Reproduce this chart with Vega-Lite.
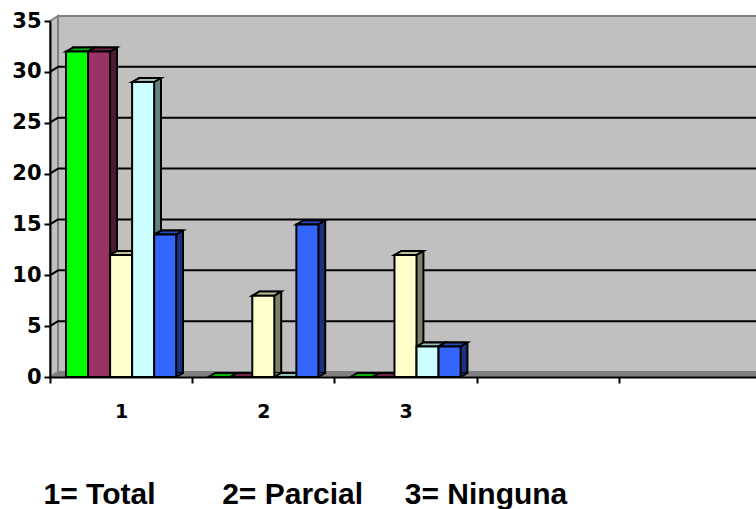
{"$schema":"https://vega.github.io/schema/vega-lite/v6.json","width":711,"height":356,"autosize":"none","padding":{"left":50,"top":21,"right":0,"bottom":132},"background":"white","config":{"view":{"stroke":null},"font":"DejaVu Sans"},"datasets":{"bars":[{"cat":"1","s":"a","value":32},{"cat":"1","s":"b","value":32},{"cat":"1","s":"c","value":12},{"cat":"1","s":"d","value":29},{"cat":"1","s":"e","value":14},{"cat":"2","s":"a","value":0},{"cat":"2","s":"b","value":0},{"cat":"2","s":"c","value":8},{"cat":"2","s":"d","value":0},{"cat":"2","s":"e","value":15},{"cat":"3","s":"a","value":0},{"cat":"3","s":"b","value":0},{"cat":"3","s":"c","value":12},{"cat":"3","s":"d","value":3},{"cat":"3","s":"e","value":3}]},"resolve":{"scale":{"x":"independent"},"axis":{"x":"independent"}},"layer":[{"layer":[{"data":{"values":[{"a":0}]},"mark":{"type":"point","shape":"M0,0.89 L0.04,0.865 L0.04,-0.915 L0,-0.89 Z","size":160000,"filled":true,"fill":"#c0c0c0","stroke":"#808080","strokeWidth":2,"opacity":1},"encoding":{"x":{"datum":0,"type":"quantitative","scale":{"domain":[0,5]},"axis":null},"y":{"datum":17.5,"type":"quantitative","scale":{"domain":[0,35]},"axis":{"values":[0,5,10,15,20,25,30,35],"zindex":1,"domainColor":"#000","domainWidth":2,"tickColor":"#000","tickWidth":2,"tickSize":6,"labelFont":"DejaVu Sans","labelFontWeight":"bold","labelFontSize":21,"labelColor":"#000","labelPadding":3,"grid":false,"title":null}}}},{"data":{"values":[{"a":0}]},"mark":{"type":"rect","fill":"#c0c0c0","stroke":"#808080","strokeWidth":2,"xOffset":8,"yOffset":-5,"x2Offset":8,"y2Offset":-5},"encoding":{"x":{"datum":0,"type":"quantitative","scale":{"domain":[0,5]}},"x2":{"datum":5},"y":{"datum":0,"type":"quantitative"},"y2":{"datum":35}}},{"data":{"values":[{"a":0}]},"mark":{"type":"point","shape":"M0,0 L1.7775,0 L1.7975,-0.015 L0.02,-0.015 Z","size":640000,"filled":true,"fill":"#808080","opacity":1,"stroke":null},"encoding":{"x":{"datum":0,"type":"quantitative","scale":{"domain":[0,5]}},"y":{"datum":0,"type":"quantitative"}}},{"data":{"values":[{"v":5},{"v":10},{"v":15},{"v":20},{"v":25},{"v":30}]},"mark":{"type":"rule","color":"#000","strokeWidth":2,"xOffset":8,"x2Offset":8,"yOffset":-5},"encoding":{"x":{"datum":0,"type":"quantitative","scale":{"domain":[0,5]}},"x2":{"datum":5},"y":{"field":"v","type":"quantitative"}}},{"data":{"values":[{"v":5},{"v":10},{"v":15},{"v":20},{"v":25},{"v":30}]},"mark":{"type":"point","shape":"M0,0 L0.8,-0.5 Z","size":400,"filled":false,"stroke":"#000","strokeWidth":2,"opacity":1},"encoding":{"x":{"datum":0,"type":"quantitative","scale":{"domain":[0,5]}},"y":{"field":"v","type":"quantitative"}}}]},{"data":{"name":"bars"},"resolve":{"scale":{"fill":"independent","xOffset":"independent"}},"encoding":{"x":{"field":"cat","type":"nominal","scale":{"domain":["1","2","3","4","5"],"paddingInner":0,"paddingOuter":0},"axis":{"orient":"bottom","zindex":1,"domain":true,"domainColor":"#000","domainWidth":2,"ticks":true,"tickColor":"#000","tickWidth":2,"tickSize":6,"tickBand":"extent","labelAngle":0,"labelFont":"DejaVu Sans","labelFontWeight":"bold","labelFontSize":19,"labelColor":"#000","labelPadding":19,"labelExpr":"datum.value <= 3 ? datum.label : ''","grid":false,"title":"1= Total\u00a0\u00a0\u00a0\u00a0\u00a0\u00a0\u00a0\u00a02= Parcial\u00a0\u00a0\u00a0\u00a0\u00a03= Ninguna","titleFont":"Liberation Sans","titleFontWeight":"bold","titleFontSize":30,"titleColor":"#000","titleAnchor":"start","titleAlign":"left","titleBaseline":"alphabetic","titleX":-7,"titleY":126}},"y":{"field":"value","type":"quantitative"}},"layer":[{"transform":[{"filter":"datum.value > 0"}],"mark":{"type":"rect","stroke":"#000","strokeWidth":2,"yOffset":-4,"y2Offset":-4},"encoding":{"xOffset":{"field":"s","type":"nominal","scale":{"type":"band","domain":["a","b","c","d","e"],"paddingInner":0,"paddingOuter":0.727,"range":[7,149]}},"y2":{"datum":0},"fill":{"field":"s","type":"nominal","scale":{"domain":["a","b","c","d","e"],"range":["#008000","#4d1a33","#808066","#668080","#1a3380"]},"legend":null}}},{"transform":[{"filter":"datum.value > 0"}],"mark":{"type":"point","filled":true,"opacity":1,"stroke":null,"shape":"M0.733,0 L0.733,-0.267 L1.2,-0.267 Z","size":900},"encoding":{"xOffset":{"field":"s","type":"nominal","scale":{"type":"band","domain":["a","b","c","d","e"],"paddingInner":0,"paddingOuter":0.727}},"y":{"datum":0,"type":"quantitative"},"fill":{"field":"s","type":"nominal","legend":null,"scale":{"domain":["a","b","c","d","e"],"range":["#008000","#4d1a33","#808066","#668080","#1a3380"]}}}},{"transform":[{"filter":"datum.value > 0"}],"mark":{"type":"point","filled":false,"opacity":1,"stroke":"#000","strokeWidth":2,"shape":"M0.733,0 L1.2,-0.267 Z","size":900},"encoding":{"xOffset":{"field":"s","type":"nominal","scale":{"type":"band","domain":["a","b","c","d","e"],"paddingInner":0,"paddingOuter":0.727}},"y":{"datum":0,"type":"quantitative"}}},{"mark":{"type":"point","filled":true,"opacity":1,"stroke":"#000","strokeWidth":2,"shape":"M-0.733,0 L0.733,0 L1.2,-0.267 L-0.267,-0.267 Z","size":900},"encoding":{"xOffset":{"field":"s","type":"nominal","scale":{"type":"band","domain":["a","b","c","d","e"],"paddingInner":0,"paddingOuter":0.727}},"fill":{"field":"s","type":"nominal","legend":null,"scale":{"domain":["a","b","c","d","e"],"range":["#00b300","#73264d","#bfbf99","#99bfbf","#264dbf"]}}}},{"transform":[{"filter":"datum.value > 0"}],"mark":{"type":"bar","stroke":"#000","strokeWidth":2},"encoding":{"xOffset":{"field":"s","type":"nominal","scale":{"type":"band","domain":["a","b","c","d","e"],"paddingInner":0,"paddingOuter":0.727}},"y2":{"datum":0},"fill":{"field":"s","type":"nominal","legend":null,"scale":{"domain":["a","b","c","d","e"],"range":["#00ff00","#993366","#ffffcc","#ccffff","#3366ff"]}}}}]}]}
